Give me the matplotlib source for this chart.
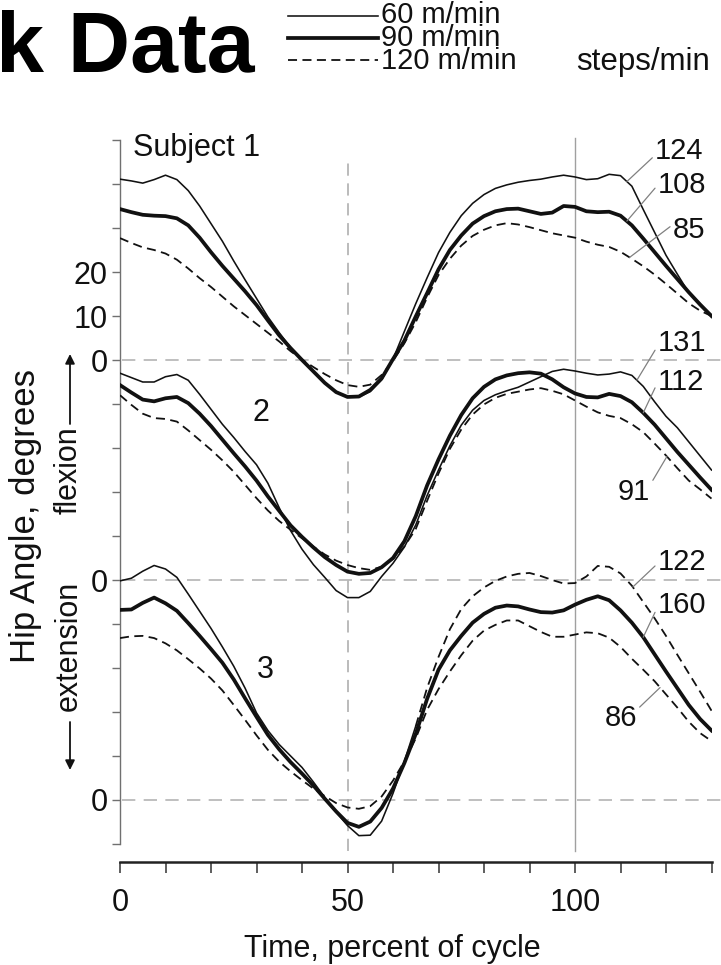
import numpy as np
import matplotlib.pyplot as plt

plt.rcParams['font.family'] = ['Liberation Sans', 'DejaVu Sans']

# percent of gait cycle, shared by every trace
pct = np.arange(0, 130.1, 2.5)

# hip angle (degrees, flexion positive), per subject and speed
s1_60 = [41.1, 40.7, 40.2, 41.0, 42.0, 41.0, 38.5, 35.0, 31.0, 27.0,
         22.5, 18.2, 14.0, 9.8, 6.2, 2.8, 0.0, -2.6, -5.2, -7.3,
         -8.4, -8.4, -7.2, -4.5, 0.2, 6.5, 12.8, 18.7, 24.4, 29.0,
         32.8, 35.6, 37.6, 39.0, 39.8, 40.4, 40.8, 41.1, 41.6, 42.0,
         41.6, 41.0, 41.2, 42.2, 41.9, 39.5, 34.2, 29.0, 23.8, 19.5,
         15.3, 12.8, 10.0]
s1_90 = [34.3, 33.6, 33.0, 32.8, 32.7, 32.2, 30.6, 27.8, 24.5, 21.4,
         18.5, 15.6, 12.5, 9.0, 5.6, 2.7, 0.0, -2.6, -5.2, -7.3,
         -8.4, -8.3, -6.8, -4.2, 0.2, 4.4, 9.9, 15.2, 20.6, 25.0,
         28.3, 31.0, 32.7, 33.8, 34.3, 34.4, 33.8, 33.2, 33.5, 35.0,
         34.8, 33.8, 33.6, 33.7, 32.8, 30.6, 27.6, 24.5, 21.4, 18.4,
         15.4, 12.6, 10.0]
s1_120 = [27.7, 26.6, 25.6, 25.0, 24.2, 22.8, 20.8, 18.6, 16.6, 14.4,
          12.2, 10.2, 8.2, 6.2, 4.2, 2.0, 0.1, -1.6, -3.2, -4.6,
          -5.7, -6.1, -5.6, -3.4, -0.2, 3.8, 8.6, 14.2, 19.3, 23.0,
          26.0, 28.2, 29.6, 30.6, 31.1, 30.8, 30.2, 29.5, 28.8, 28.3,
          27.8, 26.9, 26.2, 25.7, 24.6, 23.0, 21.3, 19.4, 17.3, 15.1,
          12.9, 11.2, 10.0]

s2_60 = [47.0, 46.0, 45.0, 45.0, 46.2, 46.7, 45.4, 42.2, 38.8, 35.4,
         32.4, 29.2, 26.2, 22.0, 16.4, 11.2, 7.0, 3.5, 0.6, -2.4,
         -4.0, -4.0, -2.6, 0.8, 3.8, 7.5, 12.5, 19.2, 25.0, 30.5,
         35.2, 38.6, 40.8, 42.1, 43.0, 43.8, 45.0, 46.2, 47.4, 47.9,
         47.5, 47.0, 46.6, 46.8, 47.3, 46.5, 44.0, 40.5, 37.2, 34.6,
         31.4, 28.2, 25.0]
s2_90 = [44.3, 42.6, 41.0, 40.6, 41.3, 41.6, 40.2, 37.8, 35.0, 31.9,
         28.8, 25.8, 22.6, 19.0, 15.7, 12.4, 9.8, 7.4, 5.2, 3.4,
         1.9, 1.4, 1.6, 2.9, 5.0, 8.8, 14.5, 21.5, 27.4, 32.8,
         37.5, 41.3, 43.9, 45.6, 46.5, 47.0, 47.2, 46.9, 45.6, 43.8,
         42.4, 41.6, 41.5, 42.3, 41.8, 40.4, 38.0, 35.3, 32.2, 29.1,
         26.2, 23.3, 20.5]
s2_120 = [42.0, 39.8, 37.8, 36.8, 36.6, 36.0, 34.0, 31.8, 29.6, 27.2,
          24.6, 21.6, 18.6, 15.8, 13.4, 11.4, 9.5, 7.6, 5.8, 4.4,
          3.4, 2.7, 2.3, 3.0, 4.8, 7.6, 11.6, 18.0, 24.2, 29.8,
          34.2, 37.6, 39.9, 41.4, 42.3, 42.8, 43.3, 43.6, 43.0, 42.2,
          40.8, 39.4, 38.1, 37.3, 36.8, 35.4, 33.6, 31.0, 28.3, 25.4,
          22.6, 20.6, 18.5]

s3_60 = [49.8, 50.4, 52.0, 53.3, 52.5, 50.6, 46.8, 42.9, 39.0, 34.8,
         30.4, 25.4, 19.8, 15.8, 12.6, 10.0, 7.4, 4.1, 0.6, -2.8,
         -5.8, -8.1, -8.0, -4.8, 1.5, 8.8, 16.8, 25.5, 32.5, 38.8,
         43.4, 46.3, 48.3, 49.8, 50.8, 51.4, 51.6, 50.9, 50.0, 49.2,
         49.3, 50.8, 53.2, 53.0, 51.5, 48.7, 45.0, 41.3, 37.3, 33.0,
         28.8, 24.6, 20.3]
s3_90 = [43.2, 43.3, 44.8, 46.0, 44.7, 43.0, 40.2, 37.3, 34.3, 31.2,
         27.4, 23.1, 18.9, 14.8, 11.5, 8.6, 6.0, 3.3, 0.3, -2.6,
         -5.2, -6.1, -4.9, -1.8, 2.6, 8.4, 15.0, 23.0, 29.6, 34.0,
         37.3, 40.3, 42.3, 43.7, 44.2, 44.0, 43.3, 42.7, 42.6, 43.1,
         44.4, 45.5, 46.3, 45.4, 43.1, 40.3, 37.0, 33.1, 29.2, 25.4,
         21.6, 18.4, 15.8]
s3_120 = [36.8, 37.2, 37.3, 36.8, 35.6, 34.0, 32.0, 29.9, 27.6, 24.9,
          21.6, 18.2, 14.7, 11.4, 8.7, 6.5, 4.5, 2.6, 0.9, -0.7,
          -1.7, -2.0, -1.4, 0.8, 4.4, 8.8, 14.0, 20.5, 25.2, 29.2,
          32.9, 36.2, 38.5, 39.8, 40.8, 40.8, 39.5, 38.2, 37.1, 37.1,
          37.6, 38.1, 37.9, 36.9, 34.8, 32.1, 29.6, 27.0, 24.0, 21.0,
          17.8, 15.2, 13.4]

speeds = ['60 m/min', '90 m/min', '120 m/min']
subjects = ['Subject 1', '2', '3']
subject_offset = [100, 50, 0]
step_labels = [['124', '108', '85'], ['131', '112', '91'], ['122', '160', '86']]
# where each steps/min leader meets its trace (percent of cycle)
leader_x = [[111.4, 111.4, 112.0], [113.6, 115.0, 120.2], [112.7, 115.0, 118.7]]

x_ticks = np.arange(0, 131, 10)
x_tick_labels = ['0', '', '', '', '', '50', '', '', '', '', '100', '', '', '']
y_ticks = np.arange(-10, 151, 10)
y_tick_labels = ['', '0', '', '', '', '', '0', '', '', '', '', '0', '10', '20', '', '', '']

series = [[s1_60, s1_90, s1_120], [s2_60, s2_90, s2_120], [s3_60, s3_90, s3_120]]

ink = '#111111'
dash = (0, (5, 3))
styles = [dict(lw=1.15, ls='-'), dict(lw=2.7, ls='-'), dict(lw=1.3, ls=dash)]

W, H = 721, 965


def fx(px):
    return px / W


def fy(py):
    return 1 - py / H


fig = plt.figure(figsize=(W / 100, H / 100), dpi=100)
ax = fig.add_axes([fx(120), fy(852.8), (711.5 - 120) / W, (852.8 - 131.2) / H])
ax.set_xlim(0, 130)
ax.set_ylim(-12, 152)

# reference lines
for off in subject_offset:
    ax.plot([0.5, 132.5], [off, off], color='#b4b4b4', lw=1.2, ls=(0, (8, 5)),
            clip_on=False, zorder=1)
ax.plot([50, 50], [-11.5, 145.5], color='#a8a8a8', lw=1.1, ls=(0, (8, 5)),
        clip_on=False, zorder=1)
ax.plot([100, 100], [-11.5, 150.5], color='#a0a0a0', lw=1.0, clip_on=False, zorder=1)

# traces
for s, (curves, off) in enumerate(zip(series, subject_offset)):
    for k, vals in enumerate(curves):
        assert len(vals) == len(pct)
        y = np.asarray(vals) + off
        if s == 2 and k == 0:
            # subject 3, slowest speed: solid in stance, dashed in swing
            m1 = pct <= 65
            m2 = pct >= 65
            ax.plot(pct[m1], y[m1], color=ink, solid_joinstyle='round', zorder=3, **styles[0])
            ax.plot(pct[m2], y[m2], color=ink, zorder=3, **styles[2])
        else:
            ax.plot(pct, y, color=ink, solid_joinstyle='round', zorder=3, **styles[k])

# steps/min labels with leaders
label_layout = [
    [(117.6, 147.5, 'left', (0, 0.35)), (118.2, 139.8, 'left', (0.05, 0.6)),
     (121.5, 129.5, 'left', (0, 0.7))],
    [(118.2, 103.9, 'left', (0, 0.4)), (118.2, 95.0, 'left', (0, 0.5)),
     (116.5, 70.0, 'right', (1, 0.75))],
    [(118.2, 54.1, 'left', (0, 0.45)), (118.2, 44.3, 'left', (0, 0.45)),
     (113.6, 18.6, 'right', (1, 0.8))],
]
for s in range(3):
    for k in range(3):
        tx, ty, ha, rel = label_layout[s][k]
        lx = leader_x[s][k]
        ly = np.interp(lx, pct, series[s][k]) + subject_offset[s]
        ax.annotate(step_labels[s][k], xy=(lx, ly), xytext=(tx, ty), ha=ha, va='center',
                    fontsize=21, color=ink,
                    arrowprops=dict(arrowstyle='-', color='#808080', lw=0.9,
                                    shrinkA=0, shrinkB=0, relpos=rel))

ax.text(2.9, 148.2, subjects[0], fontsize=22, va='center', color=ink)
ax.text(31, 88, subjects[1], fontsize=22, ha='center', va='center', color=ink)
ax.text(32, 29.5, subjects[2], fontsize=22, ha='center', va='center', color=ink)

# axes styling
ax.spines['top'].set_visible(False)
ax.spines['right'].set_visible(False)
ax.spines['left'].set_bounds(-10, 150)
ax.spines['left'].set_color('#707070')
ax.spines['left'].set_linewidth(1.0)
ax.spines['bottom'].set_position(('outward', 6.6))
ax.spines['bottom'].set_bounds(0, 130)
ax.spines['bottom'].set_linewidth(1.8)
ax.spines['bottom'].set_color('#222222')
ax.set_xticks(x_ticks)
ax.set_xticklabels(x_tick_labels)
ax.set_yticks(y_ticks)
ax.set_yticklabels(y_tick_labels)
ax.tick_params(axis='x', direction='out', length=8, width=1.1, color='#333333',
               labelsize=22, pad=11, labelcolor=ink)
ax.tick_params(axis='y', direction='out', length=6, width=1.0, color='#707070',
               labelsize=22, pad=3, labelcolor=ink)

fig.text(fx(392), fy(957), 'Time, percent of cycle', ha='center', va='baseline',
         fontsize=22, color=ink)

# y label with flexion / extension arrows
fig.text(fx(26), fy(516), 'Hip Angle, degrees', rotation=90, ha='center', va='center',
         fontsize=25, color=ink)
fig.text(fx(69), fy(470), 'flexion', rotation=90, ha='center', va='center',
         fontsize=22, color=ink)
fig.text(fx(69), fy(646), 'extension', rotation=90, ha='center', va='center',
         fontsize=22, color=ink)
arrow = dict(arrowstyle='-|>', lw=1.3, color=ink, mutation_scale=14, shrinkA=0, shrinkB=0)
ax.annotate('', xy=(fx(70), fy(354)), xytext=(fx(70), fy(424)),
            xycoords='figure fraction', textcoords='figure fraction', arrowprops=arrow)
ax.annotate('', xy=(fx(70), fy(770)), xytext=(fx(70), fy(722)),
            xycoords='figure fraction', textcoords='figure fraction', arrowprops=arrow)

# legend drawn by hand at the top
leg_y = [16, 38, 60]
for k, py in enumerate(leg_y):
    ax.plot([fx(288), fx(378)], [fy(py), fy(py)], transform=fig.transFigure,
            color=ink, clip_on=False, **styles[k])
fig.text(fx(381), fy(38), '\n'.join(speeds), ha='left', va='center', fontsize=21,
         linespacing=0.76, color=ink)
fig.text(fx(576), fy(62), 'steps/min', ha='left', va='center', fontsize=22.5, color=ink)

# slide title (cut off at the left edge)
fig.text(fx(255), fy(72), 'k Data', ha='right', va='baseline', fontsize=62,
         fontweight='bold', color='black')

fig.savefig('out.png', dpi=100)
